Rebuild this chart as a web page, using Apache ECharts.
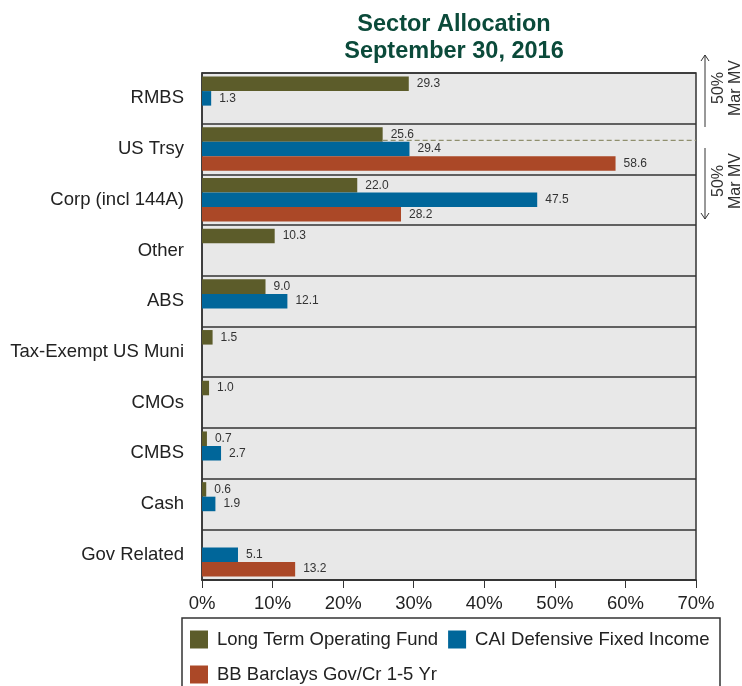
<!DOCTYPE html>
<html>
<head>
<meta charset="utf-8">
<script src="https://cdn.jsdelivr.net/npm/echarts@6/dist/echarts.min.js"></script>
<style>html,body{margin:0;padding:0;background:#fff;}#c{width:742px;height:686px;}</style>
</head>
<body>
<div id="c"></div>
<script>
var categories = ['RMBS', 'US Trsy', 'Corp (incl 144A)', 'Other', 'ABS', 'Tax-Exempt US Muni', 'CMOs', 'CMBS', 'Cash', 'Gov Related'];
var seriesNames = ['Long Term Operating Fund', 'CAI Defensive Fixed Income', 'BB Barclays Gov/Cr 1-5 Yr'];
var ltof = [29.3, 25.6, 22.0, 10.3, 9.0, 1.5, 1.0, 0.7, 0.6, null];
var cai = [1.3, 29.4, 47.5, null, 12.1, null, null, 2.7, 1.9, 5.1];
var bb = [null, 58.6, 28.2, null, null, null, null, null, null, 13.2];
var xTicks = [0, 10, 20, 30, 40, 50, 60, 70];
var titleLines = ['Sector Allocation', 'September 30, 2016'];
var noteText = '50%\nMar MV';
var dashedFrom = {category: 'US Trsy', value: 25.6};

var colors = ['#5c5c2a', '#00669a', '#ab4827'];
var FONT = 'Liberation Sans, Arial, sans-serif';
var chart = echarts.init(document.getElementById('c'), null, {renderer: 'canvas'});
var gapPct = 14;

function mk(name, data, color) {
  return {
    name: name, type: 'bar', data: data, barGap: '0%', barCategoryGap: gapPct + '%',
    itemStyle: {color: color},
    label: {show: true, position: 'right', distance: 8, fontFamily: FONT, fontSize: 12, color: '#333',
      formatter: function (p) { return p.value == null ? '' : p.value.toFixed(1); }}
  };
}

var option = {
  animation: false,
  backgroundColor: '#fff',
  title: {
    text: titleLines.join('\n'), left: 449, textAlign: 'center', top: 6,
    textStyle: {fontFamily: FONT, fontWeight: 'bold', fontSize: 23.5, color: '#0b4a3a', lineHeight: 27}
  },
  grid: {left: 202, right: 46, top: 73, bottom: 106, show: true, backgroundColor: '#e8e8e8',
    borderColor: '#333', borderWidth: 1.5},
  xAxis: {
    type: 'value', min: 0, max: 70, interval: 10,
    axisLine: {show: true, lineStyle: {color: '#333', width: 1.5}},
    axisTick: {show: true, length: 8, lineStyle: {color: '#333'}},
    splitLine: {show: false},
    axisLabel: {fontFamily: FONT, fontSize: 18.5, color: '#222', margin: 14,
      formatter: function (v) { return xTicks.indexOf(v) >= 0 ? v + '%' : ''; }}
  },
  yAxis: {
    type: 'category', data: categories, inverse: true,
    axisLine: {show: true, lineStyle: {color: '#333', width: 1.5}},
    axisTick: {show: false},
    splitLine: {show: true, lineStyle: {color: '#333', width: 1.5}},
    axisLabel: {fontFamily: FONT, fontSize: 18.5, color: '#222', margin: 18}
  },
  legend: [
    {data: [seriesNames[0], seriesNames[1]], left: 190, top: 630, padding: 0, itemWidth: 18, itemHeight: 18, itemGap: 10,
      icon: 'rect', textStyle: {fontFamily: FONT, fontSize: 18.5, color: '#222', padding: [0, 0, 0, 4]}},
    {data: [seriesNames[2]], left: 190, top: 665, padding: 0, itemWidth: 18, itemHeight: 18, itemGap: 10,
      icon: 'rect', textStyle: {fontFamily: FONT, fontSize: 18.5, color: '#222', padding: [0, 0, 0, 4]}}
  ],
  series: [mk(seriesNames[0], ltof, colors[0]), mk(seriesNames[1], cai, colors[1]), mk(seriesNames[2], bb, colors[2])]
};
chart.setOption(option);

// annotations computed from the chart's own scales
var ci = categories.indexOf(dashedFrom.category);
var c0 = chart.convertToPixel({gridIndex: 0}, [dashedFrom.value, ci]);
var c1 = chart.convertToPixel({gridIndex: 0}, [70, ci]);
var b0 = chart.convertToPixel({gridIndex: 0}, [0, 0]);
var b1 = chart.convertToPixel({gridIndex: 0}, [0, 1]);
var band = Math.abs(b1[1] - b0[1]);
var bw = band * (1 - gapPct / 100) / 3;
var dy = c0[1] - bw / 2 - 1.5;
var arrowX = 705;

chart.setOption({
  graphic: [
    {type: 'line', shape: {x1: c0[0], y1: dy, x2: c1[0], y2: dy}, style: {stroke: '#8f8f6e', lineWidth: 1.2, lineDash: [5, 3]}, z: 50},
    {type: 'rect', shape: {x: 182, y: 618, width: 538, height: 90}, style: {fill: 'none', stroke: '#333', lineWidth: 1.5}},
    {type: 'line', shape: {x1: arrowX, y1: 55, x2: arrowX, y2: 127}, style: {stroke: '#333', lineWidth: 1}},
    {type: 'polyline', shape: {points: [[arrowX - 4, 61], [arrowX, 55], [arrowX + 4, 61]]}, style: {stroke: '#333', fill: 'none', lineWidth: 1}},
    {type: 'line', shape: {x1: arrowX, y1: 148, x2: arrowX, y2: 219}, style: {stroke: '#333', lineWidth: 1}},
    {type: 'polyline', shape: {points: [[arrowX - 4, 213], [arrowX, 219], [arrowX + 4, 213]]}, style: {stroke: '#333', fill: 'none', lineWidth: 1}},
    {type: 'text', x: 727, y: 88, rotation: Math.PI / 2,
      style: {text: noteText, fontFamily: FONT, fontSize: 16, fill: '#333', align: 'center', verticalAlign: 'middle', lineHeight: 17}},
    {type: 'text', x: 727, y: 181, rotation: Math.PI / 2,
      style: {text: noteText, fontFamily: FONT, fontSize: 16, fill: '#333', align: 'center', verticalAlign: 'middle', lineHeight: 17}}
  ]
});
</script>
</body>
</html>
